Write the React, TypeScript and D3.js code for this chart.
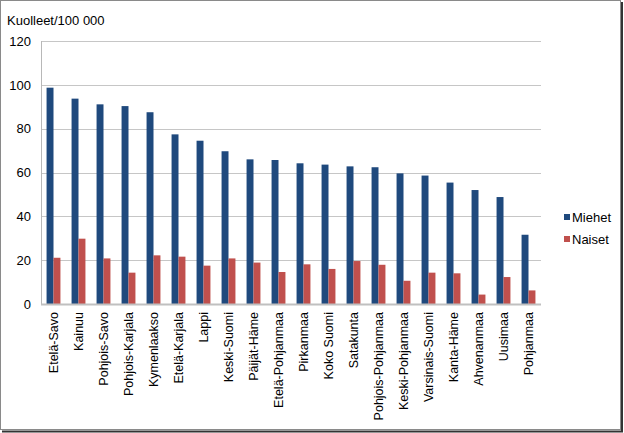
import React from "react";
import * as d3 from "d3";

const regions = [
  "Etelä-Savo", "Kainuu", "Pohjois-Savo", "Pohjois-Karjala", "Kymenlaakso",
  "Etelä-Karjala", "Lappi", "Keski-Suomi", "Päijät-Häme", "Etelä-Pohjanmaa",
  "Pirkanmaa", "Koko Suomi", "Satakunta", "Pohjois-Pohjanmaa", "Keski-Pohjanmaa",
  "Varsinais-Suomi", "Kanta-Häme", "Ahvenanmaa", "Uusimaa", "Pohjanmaa",
];
const miehet = [98.7, 93.7, 91.1, 90.3, 87.5, 77.4, 74.5, 69.7, 66.0, 65.7, 64.2, 63.6, 62.8, 62.4, 59.6, 58.6, 55.4, 52.0, 48.8, 31.6];
const naiset = [21.1, 29.8, 20.8, 14.3, 22.2, 21.6, 17.5, 20.8, 18.9, 14.6, 18.1, 16.0, 19.6, 17.9, 10.6, 14.3, 14.0, 4.3, 12.3, 6.2];
const seriesNames = ["Miehet", "Naiset"];
const seriesColors = ["#1F497D", "#C0504D"];
const yTicks = [0, 20, 40, 60, 80, 100, 120];
const yTitle = "Kuolleet/100 000";

export default function App() {
  const W = 624, H = 433;
  const left = 41, right = 541, top = 41, bottom = 304;
  const x = d3.scaleBand<string>().domain(regions).range([left, right]).paddingInner(0.445).paddingOuter(0.2225);
  const xs = d3.scaleBand<string>().domain(seriesNames).range([0, x.bandwidth()]);
  const y = d3.scaleLinear().domain([0, 120]).range([bottom, top]);
  const font = "'Liberation Sans', Arial, sans-serif";
  const data = [miehet, naiset];

  return (
    <svg width={W} height={H} style={{ position: "absolute", left: 0, top: 0 }} fontFamily={font}>
      <rect x={0} y={0} width={W} height={H} fill="#fff" />
      <rect x={0.5} y={0.5} width={620} height={429} fill="none" stroke="#8a8a8a" strokeWidth={1} />
      <line x1={622} y1={2} x2={622} y2={432} stroke="#333" strokeWidth={2} />
      <line x1={2} y1={431.5} x2={623} y2={431.5} stroke="#333" strokeWidth={2} />

      {yTicks.map((t) => (
        <g key={t}>
          {t > 0 && (
            <line x1={left} x2={right} y1={Math.round(y(t)) + 0.5} y2={Math.round(y(t)) + 0.5} stroke="#c6c6c6" strokeWidth={1} />
          )}
          <text x={31} y={y(t)} dy="0.36em" textAnchor="end" fontSize={13} fill="#000">{t}</text>
        </g>
      ))}
      <text x={7} y={25} fontSize={13} fill="#000">{yTitle}</text>

      {data.map((vals, si) =>
        vals.map((v, i) => (
          <rect
            key={`${si}-${i}`}
            x={(x(regions[i]) as number) + (xs(seriesNames[si]) as number)}
            y={y(v)}
            width={xs.bandwidth()}
            height={bottom - y(v)}
            fill={seriesColors[si]}
          />
        ))
      )}

      <line x1={left + 0.5} x2={left + 0.5} y1={top} y2={bottom} stroke="#b8b8b8" strokeWidth={1} />
      <line x1={left} x2={right} y1={bottom + 0.5} y2={bottom + 0.5} stroke="#c0c0c0" strokeWidth={2} />

      {regions.map((r) => {
        const cx = (x(r) as number) + x.bandwidth() / 2;
        return (
          <text key={r} transform={`translate(${cx},312) rotate(-90)`} dy="0.36em" textAnchor="end" fontSize={12.5} fill="#000">{r}</text>
        );
      })}

      {seriesNames.map((s, i) => (
        <g key={s} transform={`translate(564,${217 + i * 22})`}>
          <rect x={0} y={-3} width={6} height={6} fill={seriesColors[i]} />
          <text x={8} y={0} dy="0.36em" fontSize={13} fill="#000">{s}</text>
        </g>
      ))}
    </svg>
  );
}
